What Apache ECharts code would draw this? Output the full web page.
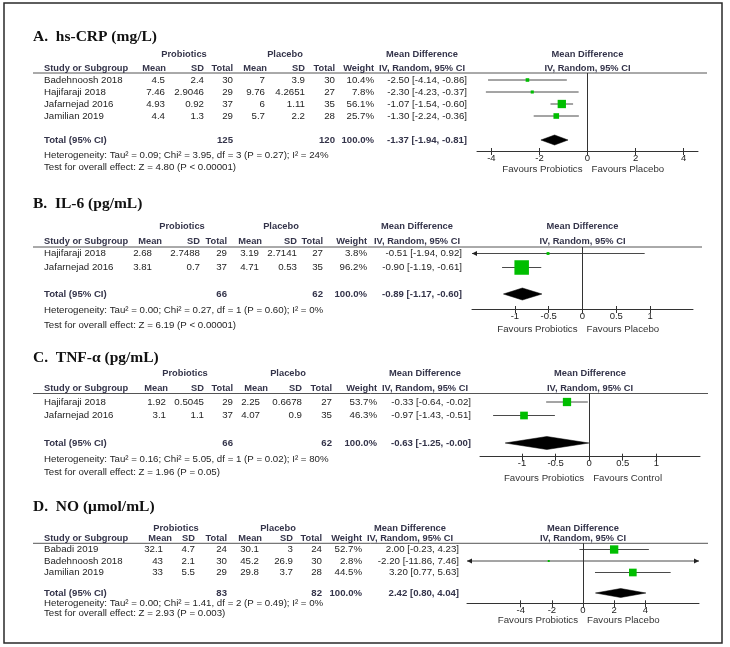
<!DOCTYPE html>
<html><head><meta charset="utf-8">
<script src="https://cdn.jsdelivr.net/npm/echarts@6/dist/echarts.min.js"></script>
<style>html,body{margin:0;padding:0;background:#fff}#c{width:730px;height:647px}</style>
</head><body><div id="c"></div>
<script>
// ================= DATA =================
// A. hs-CRP
const crpTitle    = "A.  hs-CRP (mg/L)";
const crpStudies  = ["Badehnoosh 2018","Hajifaraji 2018","Jafarnejad 2016","Jamilian 2019"];
const crpProbMean = ["4.5","7.46","4.93","4.4"];
const crpProbSD   = ["2.4","2.9046","0.92","1.3"];
const crpProbN    = [30,29,37,29];
const crpPlacMean = ["7","9.76","6","5.7"];
const crpPlacSD   = ["3.9","4.2651","1.11","2.2"];
const crpPlacN    = [30,27,35,28];
const crpWeight   = [10.4,7.8,56.1,25.7];
const crpMD       = [-2.50,-2.30,-1.07,-1.30];
const crpLo       = [-4.14,-4.23,-1.54,-2.24];
const crpHi       = [-0.86,-0.37,-0.60,-0.36];
const crpTotal    = [125,120,-1.37,-1.94,-0.81];
const crpHet      = "Heterogeneity: Tau\u00b2 = 0.09; Chi\u00b2 = 3.95, df = 3 (P = 0.27); I\u00b2 = 24%";
const crpTest     = "Test for overall effect: Z = 4.80 (P < 0.00001)";
const crpTicks    = [-4,-2,0,2,4];
const crpFavour   = ["Favours Probiotics","Favours Placebo"];

// B. IL-6
const il6Title    = "B.  IL-6 (pg/mL)";
const il6Studies  = ["Hajifaraji 2018","Jafarnejad 2016"];
const il6ProbMean = ["2.68","3.81"];
const il6ProbSD   = ["2.7488","0.7"];
const il6ProbN    = [29,37];
const il6PlacMean = ["3.19","4.71"];
const il6PlacSD   = ["2.7141","0.53"];
const il6PlacN    = [27,35];
const il6Weight   = [3.8,96.2];
const il6MD       = [-0.51,-0.90];
const il6Lo       = [-1.94,-1.19];
const il6Hi       = [0.92,-0.61];
const il6Total    = [66,62,-0.89,-1.17,-0.60];
const il6Het      = "Heterogeneity: Tau\u00b2 = 0.00; Chi\u00b2 = 0.27, df = 1 (P = 0.60); I\u00b2 = 0%";
const il6Test     = "Test for overall effect: Z = 6.19 (P < 0.00001)";
const il6Ticks    = [-1,-0.5,0,0.5,1];
const il6Favour   = ["Favours Probiotics","Favours Placebo"];

// C. TNF-alpha
const tnfTitle    = "C.  TNF-\u03b1 (pg/mL)";
const tnfStudies  = ["Hajifaraji 2018","Jafarnejad 2016"];
const tnfProbMean = ["1.92","3.1"];
const tnfProbSD   = ["0.5045","1.1"];
const tnfProbN    = [29,37];
const tnfPlacMean = ["2.25","4.07"];
const tnfPlacSD   = ["0.6678","0.9"];
const tnfPlacN    = [27,35];
const tnfWeight   = [53.7,46.3];
const tnfMD       = [-0.33,-0.97];
const tnfLo       = [-0.64,-1.43];
const tnfHi       = [-0.02,-0.51];
const tnfTotal    = [66,62,-0.63,-1.25,-0.004];
const tnfHet      = "Heterogeneity: Tau\u00b2 = 0.16; Chi\u00b2 = 5.05, df = 1 (P = 0.02); I\u00b2 = 80%";
const tnfTest     = "Test for overall effect: Z = 1.96 (P = 0.05)";
const tnfTicks    = [-1,-0.5,0,0.5,1];
const tnfFavour   = ["Favours Probiotics","Favours Control"];

// D. NO
const noTitle     = "D.  NO (\u03bcmol/mL)";
const noStudies   = ["Babadi 2019","Badehnoosh 2018","Jamilian 2019"];
const noProbMean  = ["32.1","43","33"];
const noProbSD    = ["4.7","2.1","5.5"];
const noProbN     = [24,30,29];
const noPlacMean  = ["30.1","45.2","29.8"];
const noPlacSD    = ["3","26.9","3.7"];
const noPlacN     = [24,30,28];
const noWeight    = [52.7,2.8,44.5];
const noMD        = [2.00,-2.20,3.20];
const noLo        = [-0.23,-11.86,0.77];
const noHi        = [4.23,7.46,5.63];
const noTotal     = [83,82,2.42,0.80,4.04];
const noHet       = "Heterogeneity: Tau\u00b2 = 0.00; Chi\u00b2 = 1.41, df = 2 (P = 0.49); I\u00b2 = 0%";
const noTest      = "Test for overall effect: Z = 2.93 (P = 0.003)";
const noTicks     = [-4,-2,0,2,4];
const noFavour    = ["Favours Probiotics","Favours Placebo"];

// ================= LAYOUT (pixels / styles only) =================
const layouts = [
  { titleY:37, groupY:54.5, headY:68, ruleY:73, rule:[33,707], row0:80, step:12, totalY:140, hetY:155.3, testY:167,
    c:{study:44,hm1:166,m1:165,sd1:204,n1:233,hm2:267,m2:265,sd2:305,n2:335,w:374,ci:467}, grp:[184,285], mdC:422,
    left:477, right:698, axisY:151, xMin:-4.6, xMax:4.6, favY:169.5, boxK:1.11, diaH:5 },
  { titleY:204, groupY:226.7, headY:241, ruleY:247, rule:[33,702], row0:253.5, step:14, totalY:294, hetY:310.7, testY:325,
    c:{study:44,hm1:162,m1:152,sd1:200,n1:227,hm2:262,m2:259,sd2:297,n2:323,w:367,ci:462}, grp:[182,281], mdC:417,
    left:472, right:693, axisY:309, xMin:-1.635, xMax:1.635, favY:329.5, boxK:1.48, diaH:6 },
  { titleY:358, groupY:373.3, headY:388.3, ruleY:393.5, rule:[33,708], row0:402, step:13.5, totalY:443, hetY:459.3, testY:472.7,
    c:{study:44,hm1:168,m1:166,sd1:204,n1:233,hm2:268,m2:260,sd2:302,n2:332,w:377,ci:471}, grp:[185,288], mdC:425,
    left:480, right:700, axisY:456.7, xMin:-1.625, xMax:1.65, favY:478, boxK:1.13, diaH:6.5 },
  { titleY:506.7, groupY:528.3, headY:538.3, ruleY:543.3, rule:[33,708], row0:549.5, step:11.5, totalY:593, hetY:603.3, testY:613.3,
    c:{study:44,hm1:172,m1:163,sd1:195,n1:227,hm2:262,m2:259,sd2:293,n2:322,w:362,ci:459}, grp:[176,278], mdC:410,
    left:467, right:699, axisY:603.3, xMin:-7.45, xMax:7.45, favY:620.7, boxK:1.15, diaH:4.5 }
];

const panels = [
  {title:crpTitle, studies:crpStudies, pm:crpProbMean, psd:crpProbSD, pn:crpProbN, cm:crpPlacMean, csd:crpPlacSD, cn:crpPlacN,
   w:crpWeight, md:crpMD, lo:crpLo, hi:crpHi, tot:crpTotal, het:crpHet, test:crpTest, ticks:crpTicks, fav:crpFavour},
  {title:il6Title, studies:il6Studies, pm:il6ProbMean, psd:il6ProbSD, pn:il6ProbN, cm:il6PlacMean, csd:il6PlacSD, cn:il6PlacN,
   w:il6Weight, md:il6MD, lo:il6Lo, hi:il6Hi, tot:il6Total, het:il6Het, test:il6Test, ticks:il6Ticks, fav:il6Favour},
  {title:tnfTitle, studies:tnfStudies, pm:tnfProbMean, psd:tnfProbSD, pn:tnfProbN, cm:tnfPlacMean, csd:tnfPlacSD, cn:tnfPlacN,
   w:tnfWeight, md:tnfMD, lo:tnfLo, hi:tnfHi, tot:tnfTotal, het:tnfHet, test:tnfTest, ticks:tnfTicks, fav:tnfFavour},
  {title:noTitle, studies:noStudies, pm:noProbMean, psd:noProbSD, pn:noProbN, cm:noPlacMean, csd:noPlacSD, cn:noPlacN,
   w:noWeight, md:noMD, lo:noLo, hi:noHi, tot:noTotal, het:noHet, test:noTest, ticks:noTicks, fav:noFavour}
];

const SANS = '"Liberation Sans", Arial, sans-serif';
const SERIF = '"Liberation Serif", "Times New Roman", serif';
const BODY = '#1e1e1e', HEAD = '#34344a';
const BODY_SIZE = 9.7, HEAD_SIZE = 9.3;

function T(x, y, text, o) {
  o = o || {};
  const align = o.align || 'left';
  const font = (o.bold ? 'bold ' : '') + (o.size || BODY_SIZE) + 'px ' + (o.family || SANS);
  return { type:'text', x:x, y:y, silent:true, z:10,
    style:{ text:String(text), fill:o.color || BODY, font:font,
            align:align, verticalAlign:'middle', textAlign:align, textVerticalAlign:'middle' } };
}
const f2 = v => v.toFixed(2);
const ciText = (m,l,h) => f2(m) + ' [' + f2(l) + ', ' + f2(h) + ']';

const graphics = [];
graphics.push({ type:'rect', silent:true, z:100, shape:{x:4,y:3,width:718,height:640},
  style:{ fill:'transparent', stroke:'#2a2a2a', lineWidth:1.5 } });

const grids = [], xAxes = [], yAxes = [], series = [];

panels.forEach((P, i) => {
  const L = layouts[i], C = L.c;
  graphics.push(T(33, L.titleY, P.title, {bold:true, size:15.5, family:SERIF, color:'#111'}));
  graphics.push(T(L.grp[0], L.groupY, 'Probiotics', {bold:true, size:HEAD_SIZE, color:HEAD, align:'center'}));
  graphics.push(T(L.grp[1], L.groupY, 'Placebo', {bold:true, size:HEAD_SIZE, color:HEAD, align:'center'}));
  graphics.push(T(L.mdC, L.groupY, 'Mean Difference', {bold:true, size:HEAD_SIZE, color:HEAD, align:'center'}));
  const plotC = (L.left + L.right) / 2;
  graphics.push(T(plotC, L.groupY, 'Mean Difference', {bold:true, size:HEAD_SIZE, color:HEAD, align:'center'}));
  const hb = {bold:true, size:HEAD_SIZE, color:HEAD};
  graphics.push(T(C.study, L.headY, 'Study or Subgroup', hb));
  graphics.push(T(C.hm1, L.headY, 'Mean', Object.assign({align:'right'}, hb)));
  graphics.push(T(C.sd1, L.headY, 'SD', Object.assign({align:'right'}, hb)));
  graphics.push(T(C.n1, L.headY, 'Total', Object.assign({align:'right'}, hb)));
  graphics.push(T(C.hm2, L.headY, 'Mean', Object.assign({align:'right'}, hb)));
  graphics.push(T(C.sd2, L.headY, 'SD', Object.assign({align:'right'}, hb)));
  graphics.push(T(C.n2, L.headY, 'Total', Object.assign({align:'right'}, hb)));
  graphics.push(T(C.w, L.headY, 'Weight', Object.assign({align:'right'}, hb)));
  graphics.push(T(L.mdC, L.headY, 'IV, Random, 95% CI', Object.assign({align:'center'}, hb)));
  graphics.push(T(plotC, L.headY, 'IV, Random, 95% CI', Object.assign({align:'center'}, hb)));
  graphics.push({ type:'line', silent:true, z:5, shape:{x1:L.rule[0], y1:L.ruleY, x2:L.rule[1], y2:L.ruleY},
    style:{ stroke:'#555', lineWidth:1 } });
  P.studies.forEach((s, k) => {
    const y = L.row0 + k * L.step;
    graphics.push(T(C.study, y, s));
    graphics.push(T(C.m1, y, P.pm[k], {align:'right'}));
    graphics.push(T(C.sd1, y, P.psd[k], {align:'right'}));
    graphics.push(T(C.n1, y, P.pn[k], {align:'right'}));
    graphics.push(T(C.m2, y, P.cm[k], {align:'right'}));
    graphics.push(T(C.sd2, y, P.csd[k], {align:'right'}));
    graphics.push(T(C.n2, y, P.cn[k], {align:'right'}));
    graphics.push(T(C.w, y, P.w[k].toFixed(1) + '%', {align:'right'}));
    graphics.push(T(C.ci, y, ciText(P.md[k], P.lo[k], P.hi[k]), {align:'right'}));
  });
  const tb = {bold:true, size:HEAD_SIZE + 0.3, color:HEAD};
  graphics.push(T(C.study, L.totalY, 'Total (95% CI)', tb));
  graphics.push(T(C.n1, L.totalY, P.tot[0], Object.assign({align:'right'}, tb)));
  graphics.push(T(C.n2, L.totalY, P.tot[1], Object.assign({align:'right'}, tb)));
  graphics.push(T(C.w, L.totalY, '100.0%', Object.assign({align:'right'}, tb)));
  graphics.push(T(C.ci, L.totalY, ciText(P.tot[2], P.tot[3], P.tot[4]), Object.assign({align:'right'}, tb)));
  graphics.push(T(C.study, L.hetY, P.het));
  graphics.push(T(C.study, L.testY, P.test));
  const zeroPx = L.left + (0 - L.xMin) / (L.xMax - L.xMin) * (L.right - L.left);
  graphics.push(T(zeroPx - 5, L.favY, P.fav[0], {align:'right', color:'#333'}));
  graphics.push(T(zeroPx + 4, L.favY, P.fav[1], {align:'left', color:'#333'}));

  // ---- forest plot through ECharts axes ----
  const yMin = (L.ruleY - L.row0) / L.step, yMax = (L.axisY - L.row0) / L.step;
  const totalIdx = (L.totalY - L.row0) / L.step;
  grids.push({ left:L.left, top:L.ruleY, width:L.right - L.left, height:L.axisY - L.ruleY,
               containLabel:false, outerBoundsMode:'none' });
  yAxes.push({ gridIndex:i, type:'value', inverse:true, min:yMin, max:yMax, show:false });
  xAxes.push({ gridIndex:i, type:'value', min:L.xMin, max:L.xMax, position:'bottom', z:3,
    axisLine:{ show:true, onZero:false, lineStyle:{color:'#333', width:1} },
    axisTick:{ show:true, inside:false, length:4, customValues:P.ticks, lineStyle:{color:'#333', width:1} },
    axisLabel:{ show:true, customValues:P.ticks, margin:2, fontSize:9.5, color:'#222', fontFamily:SANS,
                formatter: v => String(v) },
    splitLine:{ show:false } });
  xAxes.push({ gridIndex:i, type:'value', min:L.xMin, max:L.xMax, position:'bottom', offset:0, z:3,
    axisLine:{ show:false, onZero:false },
    axisTick:{ show:true, inside:true, length:3, customValues:P.ticks, lineStyle:{color:'#333', width:1} },
    axisLabel:{ show:false }, splitLine:{ show:false } });

  const data = P.studies.map((s, k) => [P.md[k], P.lo[k], P.hi[k], P.w[k], k, 0]);
  data.push([P.tot[2], P.tot[3], P.tot[4], 100, totalIdx, 1]);

  series.push({
    type:'custom', xAxisIndex:2*i, yAxisIndex:i, data:data, silent:true, clip:false,
    encode:{ x:[0,1,2], y:4 },
    renderItem: function (params, api) {
      const md = api.value(0), lo = api.value(1), hi = api.value(2), w = api.value(3), row = api.value(4), isTot = api.value(5);
      const cLo = Math.max(lo, L.xMin), cHi = Math.min(hi, L.xMax);
      const pLo = api.coord([cLo, row]), pHi = api.coord([cHi, row]), pM = api.coord([md, row]);
      const y = pM[1];
      if (isTot) {
        const h = L.diaH;
        return { type:'polygon', shape:{ points:[[pLo[0], y],[pM[0], y - h],[pHi[0], y],[pM[0], y + h]] },
                 style:{ fill:'#000', stroke:'#000', lineWidth:0.5 } };
      }
      const children = [];
      children.push({ type:'line', shape:{ x1:pLo[0], y1:y, x2:pHi[0], y2:y }, style:{ stroke:'#4a4a4a', lineWidth:1 } });
      if (lo < L.xMin) children.push({ type:'polygon', shape:{ points:[[pLo[0], y],[pLo[0] + 5, y - 2.5],[pLo[0] + 5, y + 2.5]] }, style:{ fill:'#222' } });
      if (hi > L.xMax) children.push({ type:'polygon', shape:{ points:[[pHi[0], y],[pHi[0] - 5, y - 2.5],[pHi[0] - 5, y + 2.5]] }, style:{ fill:'#222' } });
      const s = Math.max(2, L.boxK * Math.sqrt(w));
      children.push({ type:'rect', shape:{ x:pM[0] - s / 2, y:y - s / 2, width:s, height:s }, style:{ fill:'#00be00' } });
      return { type:'group', children:children };
    }
  });
  series.push({ type:'line', xAxisIndex:2*i, yAxisIndex:i, data:[], silent:true,
    markLine:{ silent:true, symbol:'none', animation:false, label:{show:false},
               lineStyle:{ color:'#333', width:1, type:'solid' }, data:[{ xAxis:0 }] } });
});

const chart = echarts.init(document.getElementById('c'), null, { renderer:'canvas' });
chart.setOption({
  animation:false,
  backgroundColor:'#fff',
  graphic:{ elements:graphics },
  grid:grids, xAxis:xAxes, yAxis:yAxes, series:series
});
</script></body></html>
